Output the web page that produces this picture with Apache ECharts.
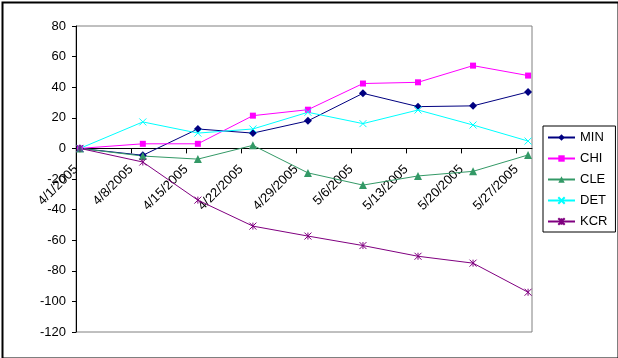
<!DOCTYPE html>
<html>
<head>
<meta charset="utf-8">
<script src="https://cdn.jsdelivr.net/npm/echarts@6/dist/echarts.min.js"></script>
<style>
html,body{margin:0;padding:0;background:#fff;}
#c{width:618px;height:358px;}
</style>
</head>
<body>
<div id="c"></div>
<script>
// ---- data ----
const xTickLabels = ['4/1/2005','4/8/2005','4/15/2005','4/22/2005','4/29/2005','5/6/2005','5/13/2005','5/20/2005','5/27/2005'];
const obsDates = ['4/1/2005','4/9/2005','4/16/2005','4/23/2005','4/30/2005','5/7/2005','5/14/2005','5/21/2005','5/28/2005'];
const seriesNames = ['MIN','CHI','CLE','DET','KCR'];
const MIN = [0, -4.5, 12.7, 10, 18, 36, 27.3, 27.8, 36.9];
const CHI = [0, 3, 3, 21.4, 25.3, 42.4, 43.2, 54.1, 47.6];
const CLE = [0, -5, -7, 2, -16, -24, -18, -15, -4.3];
const DET = [0, 17.3, 10, 12.7, 23.6, 16.2, 25.1, 15.3, 4.8];
const KCR = [0, -8.9, -33.8, -50.8, -57.3, -63.5, -70.5, -75, -94];
const yTicks = [-120, -100, -80, -60, -40, -20, 0, 20, 40, 60, 80];

// ---- helpers ----
function parseDate(s){ const p = s.split('/').map(Number); return Date.UTC(p[2], p[0]-1, p[1]); }
const day0 = parseDate(xTickLabels[0]);
// each date occupies one day slot; point sits in the middle of its slot
const xs = obsDates.map(d => (parseDate(d) - day0) / 86400000 + 0.5);
function pts(vals){ return vals.map((v,i) => [xs[i], v]); }

const FONT = "'Liberation Sans', Arial, sans-serif";
const colors = {MIN:'#000080', CHI:'#FF00FF', CLE:'#339966', DET:'#00FFFF', KCR:'#800080'};
const symbols = {
  MIN:{symbol:'diamond', size:8},
  CHI:{symbol:'rect', size:6},
  CLE:{symbol:'triangle', size:8},
  DET:{symbol:'path://M0,0L10,10M10,0L0,10', size:7},
  KCR:{symbol:'path://M0,0L10,10M10,0L0,10M5,0L5,10', size:7}
};
const vals = {MIN, CHI, CLE, DET, KCR};

const series = seriesNames.map(n => {
  const strokeSym = (n === 'DET' || n === 'KCR');
  return {
    name: n,
    type: 'line',
    data: pts(vals[n]),
    symbol: symbols[n].symbol,
    symbolSize: symbols[n].size,
    showAllSymbol: true,
    lineStyle: {color: colors[n], width: 1},
    itemStyle: strokeSym ? {color: colors[n], borderColor: colors[n], borderWidth: 1} : {color: colors[n]},
    emphasis: {disabled: true},
    animation: false
  };
});

// plot box (layout)
const G = {left: 76, top: 26, right: 86, bottom: 26};
const plotH = 358 - G.top - G.bottom;
const yMin = yTicks[0], yMax = yTicks[yTicks.length-1];
// shift x axis (line, ticks, labels) up to the zero line
const zeroOffset = -plotH * (0 - yMin) / (yMax - yMin);

const chart = echarts.init(document.getElementById('c'), null, {renderer:'canvas'});
chart.setOption({
  backgroundColor: '#ffffff',
  animation: false,
  textStyle: {fontFamily: FONT},
  graphic: [{
    type: 'rect', left: 0, top: 0, z: 100,
    shape: {x: 1, y: 1, width: 616, height: 356},
    style: {fill: 'none', stroke: '#000', lineWidth: 2}
  }],
  grid: {left: G.left, top: G.top, right: G.right, bottom: G.bottom, containLabel: false, outerBoundsMode: 'none',
         show: true, borderColor: '#808080', borderWidth: 1, backgroundColor: 'transparent'},
  legend: {
    orient: 'vertical',
    left: 543, top: 126,
    data: seriesNames,
    itemWidth: 27, itemHeight: 8, itemGap: 8,
    padding: [5, 8, 4, 4],
    borderColor: '#000', borderWidth: 1,
    textStyle: {fontFamily: FONT, fontSize: 13, color: '#000', lineHeight: 13},
    selectedMode: false
  },
  xAxis: {
    type: 'value',
    min: 0, max: 58, interval: 7,
    offset: zeroOffset,
    splitLine: {show: false},
    axisLine: {onZero: false, lineStyle: {color: '#000', width: 1}},
    axisTick: {show: true, length: 5, lineStyle: {color: '#000'}},
    axisLabel: {
      rotate: 45, margin: 19, fontSize: 13, color: '#000', fontFamily: FONT,
      showMaxLabel: false, hideOverlap: false,
      formatter: v => { const i = Math.round(v / 7); return (v % 7 === 0 && xTickLabels[i]) ? xTickLabels[i] : ''; }
    }
  },
  yAxis: {
    type: 'value',
    min: yMin, max: yMax, interval: 20,
    splitLine: {show: false},
    axisLine: {show: true, lineStyle: {color: '#000', width: 1}},
    axisTick: {show: true, length: 4, lineStyle: {color: '#000'}},
    axisLabel: {margin: 10, fontSize: 13, color: '#000', fontFamily: FONT}
  },
  series: series
});
</script>
</body>
</html>
